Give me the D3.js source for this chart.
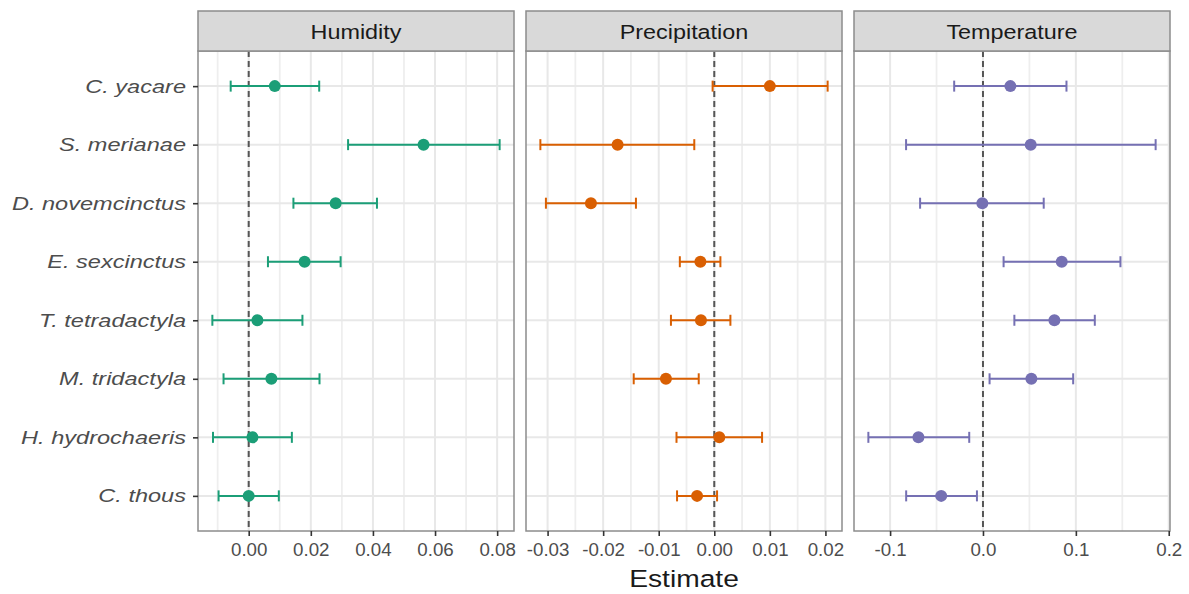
<!DOCTYPE html>
<html>
<head>
<meta charset="utf-8">
<script src="https://cdn.jsdelivr.net/npm/d3@7"></script>
<style>
  html, body { margin: 0; padding: 0; background: #fff; }
  svg { display: block; font-family: "Liberation Sans", Arial, sans-serif; }
</style>
</head>
<body>
<svg id="chart" width="1189" height="594"></svg>
<script>
// ---- Data ----
const species = ["C. yacare", "S. merianae", "D. novemcinctus", "E. sexcinctus",
                 "T. tetradactyla", "M. tridactyla", "H. hydrochaeris", "C. thous"];
const panels = ["Humidity", "Precipitation", "Temperature"];

const humidityEst  = [0.0084, 0.0563, 0.0280, 0.0180, 0.0028, 0.0073, 0.0012, 0.0000];
const humidityLow  = [-0.0058, 0.0320, 0.0144, 0.0062, -0.0117, -0.0081, -0.0115, -0.0097];
const humidityHigh = [0.0227, 0.0808, 0.0413, 0.0296, 0.0173, 0.0228, 0.0139, 0.0097];

const precipEst  = [0.0100, -0.0174, -0.0222, -0.0025, -0.0024, -0.0087, 0.0009, -0.0031];
const precipLow  = [-0.0003, -0.0313, -0.0303, -0.0062, -0.0078, -0.0145, -0.0068, -0.0067];
const precipHigh = [0.0204, -0.0036, -0.0141, 0.0011, 0.0029, -0.0028, 0.0086, 0.0005];

const tempEst  = [0.0295, 0.0514, -0.0007, 0.0848, 0.0769, 0.0521, -0.0695, -0.0450];
const tempLow  = [-0.0310, -0.0828, -0.0677, 0.0222, 0.0338, 0.0071, -0.1234, -0.0827];
const tempHigh = [0.0899, 0.1859, 0.0654, 0.1480, 0.1204, 0.0971, -0.0148, -0.0065];

const humidityTicks = [0, 0.02, 0.04, 0.06, 0.08];
const humidityMinor = [-0.01, 0.01, 0.03, 0.05, 0.07];
const precipTicks = [-0.03, -0.02, -0.01, 0, 0.01, 0.02];
const precipMinor = [-0.025, -0.015, -0.005, 0.005, 0.015];
const tempTicks = [-0.1, 0, 0.1, 0.2];
const tempMinor = [-0.05, 0.05, 0.15];

const colors = ["#1b9e77", "#d95f02", "#7570b3"];
const xTitle = "Estimate";

// ---- Layout ----
const svg = d3.select("#chart");
const panelX = [[198, 514], [526, 842], [854, 1170]];
const stripTop = 11, plotTop = 51, plotBottom = 531;
const FONT = "'Liberation Sans', Arial, sans-serif";

const loc = d3.formatLocale({decimal: ".", thousands: ",", grouping: [3], currency: ["", ""], minus: "-"});

const panelData = [
  {name: panels[0], est: humidityEst, low: humidityLow, high: humidityHigh, ticks: humidityTicks, minor: humidityMinor, fmt: loc.format(".2f")},
  {name: panels[1], est: precipEst, low: precipLow, high: precipHigh, ticks: precipTicks, minor: precipMinor, fmt: loc.format(".2f")},
  {name: panels[2], est: tempEst, low: tempLow, high: tempHigh, ticks: tempTicks, minor: tempMinor, fmt: loc.format(".1f")}
];

const y = d3.scalePoint().domain(species).range([plotTop, plotBottom]).padding(0.6);

panelData.forEach((p, i) => {
  const [x0, x1] = panelX[i];
  const lo = d3.min(p.low), hi = d3.max(p.high);
  const pad = (hi - lo) * 0.05;
  const x = d3.scaleLinear().domain([lo - pad, hi + pad]).range([x0, x1]);
  const g = svg.append("g");

  g.append("rect").attr("x", x0).attr("y", plotTop).attr("width", x1 - x0).attr("height", plotBottom - plotTop)
    .attr("fill", "#fff");

  g.selectAll(".vminor").data(p.minor).join("line")
    .attr("x1", d => x(d)).attr("x2", d => x(d)).attr("y1", plotTop).attr("y2", plotBottom)
    .attr("stroke", "#eeeeee").attr("stroke-width", 1.8);
  g.selectAll(".vmajor").data(p.ticks).join("line")
    .attr("x1", d => x(d)).attr("x2", d => x(d)).attr("y1", plotTop).attr("y2", plotBottom)
    .attr("stroke", "#e8e8e8").attr("stroke-width", 2);
  g.selectAll(".hmajor").data(species).join("line")
    .attr("x1", x0).attr("x2", x1).attr("y1", d => y(d)).attr("y2", d => y(d))
    .attr("stroke", "#e8e8e8").attr("stroke-width", 2);

  g.append("line").attr("x1", x(0)).attr("x2", x(0)).attr("y1", plotTop).attr("y2", plotBottom)
    .attr("stroke", "#555").attr("stroke-width", 2).attr("stroke-dasharray", "6,4");

  const rows = species.map((s, k) => ({s, est: p.est[k], low: p.low[k], high: p.high[k]}));
  const eb = g.selectAll(".eb").data(rows).join("g").attr("stroke", colors[i]).attr("stroke-width", 2);
  eb.append("line").attr("x1", d => x(d.low)).attr("x2", d => x(d.high)).attr("y1", d => y(d.s)).attr("y2", d => y(d.s));
  eb.append("line").attr("x1", d => x(d.low)).attr("x2", d => x(d.low)).attr("y1", d => y(d.s) - 5.5).attr("y2", d => y(d.s) + 5.5);
  eb.append("line").attr("x1", d => x(d.high)).attr("x2", d => x(d.high)).attr("y1", d => y(d.s) - 5.5).attr("y2", d => y(d.s) + 5.5);
  g.selectAll(".pt").data(rows).join("circle")
    .attr("cx", d => x(d.est)).attr("cy", d => y(d.s)).attr("r", 6).attr("fill", colors[i]);

  g.append("rect").attr("x", x0).attr("y", plotTop).attr("width", x1 - x0).attr("height", plotBottom - plotTop)
    .attr("fill", "none").attr("stroke", "#8c8c8c").attr("stroke-width", 1.5);

  g.append("rect").attr("x", x0).attr("y", stripTop).attr("width", x1 - x0).attr("height", plotTop - stripTop)
    .attr("fill", "#d9d9d9").attr("stroke", "#8c8c8c").attr("stroke-width", 1.5);
  g.append("text").attr("transform", `translate(${(x0 + x1) / 2},39) scale(1.2,1)`)
    .attr("text-anchor", "middle").attr("font-size", 19.5).attr("fill", "#1a1a1a").text(p.name);

  const ax = g.append("g").attr("transform", `translate(0,${plotBottom})`)
    .call(d3.axisBottom(x).tickValues(p.ticks).tickFormat(p.fmt).tickSize(5).tickPadding(8));
  ax.select(".domain").remove();
  ax.selectAll(".tick line").attr("stroke", "#333").attr("stroke-width", 1.6);
  ax.selectAll(".tick text").attr("fill", "#4d4d4d").attr("font-size", 17.5)
    .attr("font-family", FONT).attr("transform", "scale(1.07,1)");

  if (i === 0) {
    const ay = g.append("g").attr("transform", `translate(${x0},0)`)
      .call(d3.axisLeft(y).tickSize(5).tickPadding(7));
    ay.select(".domain").remove();
    ay.selectAll(".tick line").attr("stroke", "#333").attr("stroke-width", 1.6);
    ay.selectAll(".tick text").attr("fill", "#4d4d4d").attr("font-size", 19).attr("font-style", "italic")
      .attr("font-family", FONT).attr("x", 0).attr("transform", "translate(-12,0) scale(1.24,1)");
  }
});

svg.append("text").attr("transform", `translate(${(panelX[0][0] + panelX[2][1]) / 2},587) scale(1.2,1)`)
  .attr("text-anchor", "middle").attr("font-size", 23.5).attr("fill", "#1a1a1a").text(xTitle);
</script>
</body>
</html>
